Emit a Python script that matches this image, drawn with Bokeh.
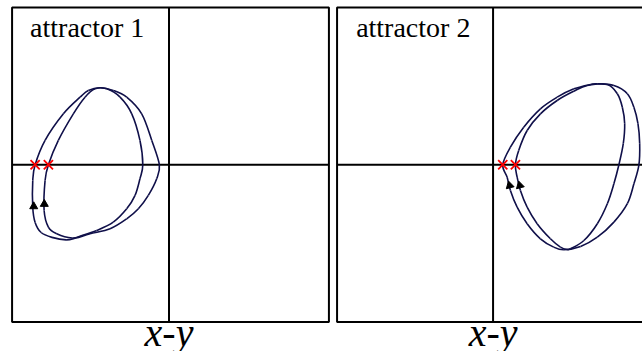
from bokeh.plotting import figure
from bokeh.models import Range1d, Label
from bokeh.layouts import row
from bokeh.embed import file_html
from bokeh.resources import INLINE

# ---------------- data ----------------
# attractor 1 : outer and inner loop of the period-2 orbit
L_OUT_X = [-0.652, -0.741, -0.810, -0.848, -0.863, -0.863, -0.848, -0.785, -0.669, -0.563,
           -0.511, -0.437, -0.353, -0.268, -0.173, -0.109, -0.061, -0.078, -0.131, -0.194,
           -0.268, -0.373, -0.500, -0.589]
L_OUT_Y = [-0.478, -0.462, -0.431, -0.367, -0.272, -0.100, 0.000, 0.155, 0.324, 0.430,
           0.473, 0.490, 0.473, 0.430, 0.324, 0.155, 0.000, -0.089, -0.195, -0.280,
           -0.344, -0.407, -0.439, -0.466]
L_IN_X = [-0.614, -0.711, -0.764, -0.791, -0.785, -0.764, -0.701, -0.606, -0.532, -0.468,
          -0.394, -0.310, -0.236, -0.184, -0.166, -0.184, -0.215, -0.268, -0.353, -0.458,
          -0.551]
L_IN_Y = [-0.466, -0.439, -0.397, -0.291, -0.100, 0.000, 0.155, 0.324, 0.430, 0.483,
          0.483, 0.430, 0.324, 0.155, 0.000, -0.089, -0.195, -0.280, -0.365, -0.418,
          -0.450]

# attractor 2
R_OUT_X = [0.453, 0.388, 0.303, 0.218, 0.154, 0.111, 0.090, 0.062, 0.111, 0.196,
           0.303, 0.410, 0.517, 0.624, 0.667, 0.773, 0.859, 0.901, 0.927, 0.938,
           0.933, 0.901, 0.859, 0.773, 0.667, 0.560]
R_OUT_Y = [-0.541, -0.524, -0.471, -0.375, -0.270, -0.163, -0.079, 0.000, 0.112, 0.239,
           0.356, 0.430, 0.483, 0.511, 0.515, 0.504, 0.452, 0.366, 0.261, 0.134,
           0.000, -0.121, -0.248, -0.365, -0.461, -0.520]
R_IN_X = [0.474, 0.431, 0.367, 0.282, 0.218, 0.175, 0.154, 0.143, 0.164, 0.218,
          0.303, 0.410, 0.517, 0.603, 0.731, 0.795, 0.827, 0.842, 0.833, 0.805,
          0.773, 0.731, 0.667, 0.581, 0.496]
R_IN_Y = [-0.539, -0.524, -0.471, -0.375, -0.270, -0.163, -0.079, 0.000, 0.091, 0.218,
          0.324, 0.409, 0.468, 0.504, 0.511, 0.452, 0.366, 0.261, 0.134, 0.000,
          -0.121, -0.248, -0.375, -0.482, -0.534]

# section crossings (red x) and flow arrows
CROSS_L_X = [-0.848, -0.764]
CROSS_R_X = [0.062, 0.143]
CROSS_Y = [0.0, 0.0]
ARROW_L_X = [-0.857, -0.790]
ARROW_L_Y = [-0.265, -0.250]
ARROW_R_X = [0.106, 0.171]
ARROW_R_Y = [-0.132, -0.132]

TITLES = ["attractor 1", "attractor 2"]
AXIS_LABEL = "x-y"

CURVE = "#10104a"


def smooth_closed(xs, ys):
    """Bezier segments through the read points (Catmull-Rom tangents)."""
    pts = list(zip(xs, ys))
    n = len(pts)
    out = {k: [] for k in ("x0", "y0", "x1", "y1", "cx0", "cy0", "cx1", "cy1")}
    for i in range(n):
        p0, p1, p2, p3 = pts[i - 1], pts[i], pts[(i + 1) % n], pts[(i + 2) % n]
        out["x0"].append(p1[0]); out["y0"].append(p1[1])
        out["x1"].append(p2[0]); out["y1"].append(p2[1])
        out["cx0"].append(p1[0] + (p2[0] - p0[0]) / 6)
        out["cy0"].append(p1[1] + (p2[1] - p0[1]) / 6)
        out["cx1"].append(p2[0] - (p3[0] - p1[0]) / 6)
        out["cy1"].append(p2[1] - (p3[1] - p1[1]) / 6)
    return out


def make_panel(title, ox, oy, ix, iy, cx, ax, ay, arrow_angle,
               xr, box_x, width, mbl, mbr, title_x):
    p = figure(width=width, height=351, x_range=Range1d(*xr), y_range=Range1d(-1.188, 1.045),
               output_backend="svg", toolbar_location=None,
               x_axis_location=None, y_axis_location=None,
               min_border_left=mbl, min_border_right=mbr, min_border_top=0,
               min_border_bottom=0, outline_line_color=None,
               background_fill_color="white", border_fill_color="white")
    p.grid.visible = False
    # panel box
    p.quad(left=[box_x[0]], right=[box_x[1]], bottom=[-1.0], top=[1.0],
           fill_color=None, line_color="black", line_width=2)
    # axes through the origin
    p.segment(x0=[0, box_x[0]], y0=[-1.0, 0], x1=[0, box_x[1]], y1=[1.0, 0],
              line_color="black", line_width=2)
    for xs, ys in ((ox, oy), (ix, iy)):
        b = smooth_closed(xs, ys)
        p.bezier(x0=b["x0"], y0=b["y0"], x1=b["x1"], y1=b["y1"],
                 cx0=b["cx0"], cy0=b["cy0"], cx1=b["cx1"], cy1=b["cy1"],
                 line_color=CURVE, line_width=1.6)
    p.scatter(ax, ay, marker="triangle", size=8, angle=arrow_angle,
              fill_color="black", line_color="black")
    p.scatter(cx, CROSS_Y, marker="x", size=13, line_color="red", line_width=1.8)
    p.add_layout(Label(x=title_x, y=0.874, text=title, text_font="Liberation Serif",
                       text_font_size="28px", text_color="black",
                       text_baseline="alphabetic", text_align="left"))
    p.add_layout(Label(x=0, y=-1.0, y_offset=-11, text=AXIS_LABEL,
                       text_font="Liberation Serif", text_font_style="italic",
                       text_font_size="40px", text_color="black",
                       text_baseline="alphabetic", text_align="center"))
    return p


p1 = make_panel(TITLES[0], L_OUT_X, L_OUT_Y, L_IN_X, L_IN_Y, CROSS_L_X,
                ARROW_L_X, ARROW_L_Y, 0.0,
                (-1.004, 1.023), (-0.994, 1.013), 331, 10, 1, -0.880)
p2 = make_panel(TITLES[1], R_OUT_X, R_OUT_Y, R_IN_X, R_IN_Y, CROSS_R_X,
                ARROW_R_X, ARROW_R_Y, 0.25,
                (-1.008, 0.956), (-0.998, 1.05), 311, 4, 0, -0.876)

layout = row(p1, p2)
open("out.html", "w").write(file_html(layout, INLINE))
